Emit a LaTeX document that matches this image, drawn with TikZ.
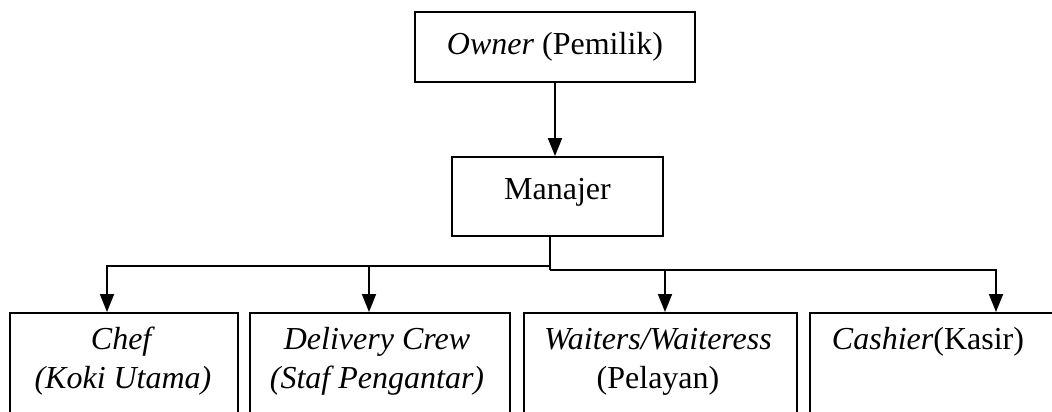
\documentclass[tikz,border=0pt]{standalone}
\usepackage{fontspec}
\setmainfont{Liberation Serif}
\usetikzlibrary{arrows.meta}

\tikzset{
  box/.style={draw, line width=1.8pt, inner sep=0pt},
  txt/.style={font=\fontsize{32}{38.5}\selectfont, align=center, inner sep=0pt, anchor=base},
  conn/.style={line width=1.8pt},
  arr/.style={line width=1.8pt, -{Triangle[width=14pt,length=18pt]}}
}

\begin{document}
\begin{tikzpicture}[x=1pt, y=-1pt]
\useasboundingbox (0,0) rectangle (1052,412);
\clip (0,0) rectangle (1052,412);
% boxes
\node[box, minimum width=280pt, minimum height=70pt] (owner) at (555,47) {};
\node[box, minimum width=211pt, minimum height=79pt] (manajer) at (557.5,196.5) {};
\node[box, minimum width=228pt, minimum height=130pt, anchor=north] (chef) at (124,312) {};
\node[box, minimum width=260pt, minimum height=130pt, anchor=north] (deliv) at (380,312) {};
\node[box, minimum width=273pt, minimum height=130pt, anchor=north] (waiter) at (660.5,312) {};
\node[box, minimum width=260pt, minimum height=130pt, anchor=north] (cashier) at (940,312) {};
% texts (two-line nodes sit on their last baseline)
\node[txt] (ownerT) at (555,55) {\textit{Owner} (Pemilik)};
\node[txt] (manajerT) at (557.5,199) {Manajer};
\node[txt] (chefT) at (123,388) {\textit{Chef}\\\textit{(Koki Utama)}};
\node[txt] (delivT) at (377,388) {\textit{Delivery Crew}\\\textit{(Staf Pengantar)}};
\node[txt] (waiterT) at (658,388) {\textit{Waiters/Waiteress}\\(Pelayan)};
\node[txt] (cashierT) at (928,349) {\textit{Cashier}(Kasir)};
% connectors
\coordinate (hubL) at (550,266);
\coordinate (hubR) at (550,270);
\coordinate (dropA) at (107,266);
\coordinate (dropB) at (369,266);
\coordinate (dropC) at (665,270);
\coordinate (dropD) at (996,270);
\draw[arr] (owner.south) -- (owner.south |- manajer.north);
\draw[conn] (manajer.south -| hubL) -- (hubR);
\draw[arr] (hubL) -- (dropA) -- (dropA |- chef.north);
\draw[arr] (dropB) -- (dropB |- deliv.north);
\draw[arr] (hubR) -- (dropD) -- (dropD |- cashier.north);
\draw[arr] (dropC) -- (dropC |- waiter.north);
\end{tikzpicture}
\end{document}
